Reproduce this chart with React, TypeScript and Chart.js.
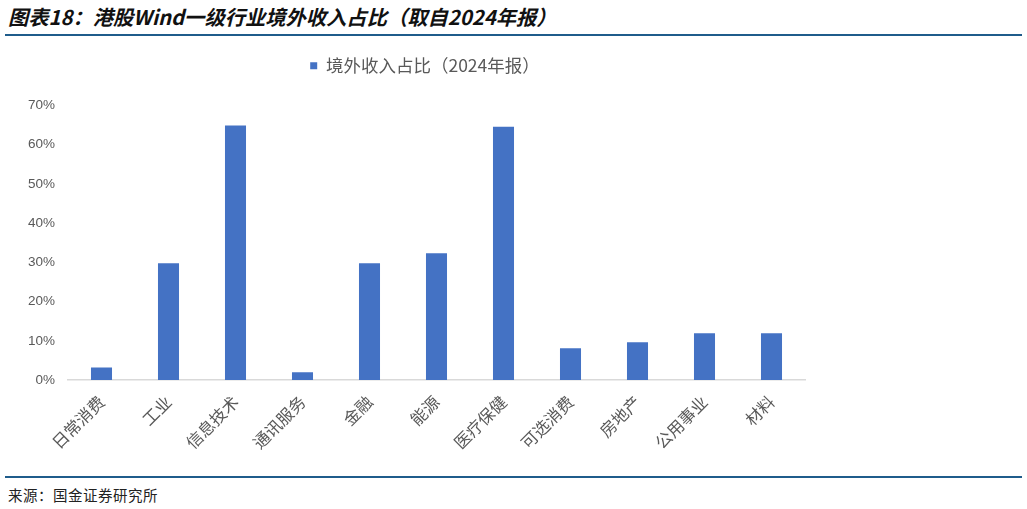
import React, { useEffect, useRef } from "react";
import { Chart, registerables } from "chart.js";

Chart.register(...registerables);

const categories = ["日常消费", "工业", "信息技术", "通讯服务", "金融", "能源", "医疗保健", "可选消费", "房地产", "公用事业", "材料"];
const overseasShare = [3.2, 29.8, 64.9, 2.0, 29.8, 32.3, 64.6, 8.1, 9.6, 11.9, 11.9];
const seriesName = "境外收入占比（2024年报）";
const yTicks = [0, 10, 20, 30, 40, 50, 60, 70];
const titleText = "图表18：港股Wind一级行业境外收入占比（取自2024年报）";
const sourceText = "来源：国金证券研究所";

const CJK = '"Noto Sans CJK SC", "Noto Sans", sans-serif';

export default function App() {
  const ref = useRef<HTMLCanvasElement | null>(null);

  useEffect(() => {
    if (!ref.current) return;
    const legendGap = {
      id: "legendGap",
      beforeLayout(chart: any) {
        const lg = chart.legend;
        if (lg && !lg._patched) {
          const f = lg.fit;
          lg.fit = function () {
            f.call(this);
            this.height += 21;
          };
          lg._patched = true;
        }
      },
      afterLayout(chart: any) {
        const lg = chart.legend;
        if (lg) lg.left = 45;
      },
    };
    const chart = new Chart(ref.current, {
      type: "bar",
      data: {
        labels: categories,
        datasets: [
          {
            label: seriesName,
            data: overseasShare,
            backgroundColor: "#4472C4",
            borderWidth: 0,
            barPercentage: 0.314,
            categoryPercentage: 1,
          },
        ],
      },
      options: {
        animation: false,
        responsive: false,
        maintainAspectRatio: false,
        layout: { padding: { left: 0, right: 222, top: 7, bottom: 0 } },
        plugins: {
          legend: {
            display: true,
            position: "top",
            labels: {
              boxWidth: 7,
              boxHeight: 7,
              color: "#595959",
              font: { family: CJK, size: 17.5 },
              padding: 10,
            },
          },
          tooltip: { enabled: false },
        },
        scales: {
          x: {
            grid: { display: false, drawTicks: false },
            border: { display: true, color: "#D9D9D9", width: 1.5 },
            ticks: {
              color: "#595959",
              font: { family: CJK, size: 16.5 },
              minRotation: 45,
              maxRotation: 45,
              padding: 12,
              autoSkip: false,
            },
            afterFit(scale: any) {
              scale.height = 90;
            },
          },
          y: {
            min: 0,
            max: 70,
            afterBuildTicks(scale: any) {
              scale.ticks = yTicks.map((v) => ({ value: v }));
            },
            grid: { display: false, drawTicks: false },
            border: { display: false },
            ticks: {
              color: "#595959",
              font: { family: '"Liberation Sans", Arial, sans-serif', size: 13.5 },
              padding: 13,
              callback: (v: any) => v + "%",
            },
            afterFit(scale: any) {
              scale.width = 68;
            },
          },
        },
      },
      plugins: [legendGap],
    });
    return () => chart.destroy();
  }, []);

  return (
    <div style={{ position: "absolute", left: 0, top: 0, width: 1027, height: 509, background: "#fff", overflow: "hidden" }}>
      <div
        style={{
          position: "absolute",
          left: 8,
          top: 4,
          fontFamily: CJK,
          fontWeight: 700,
          fontStyle: "italic",
          fontSize: 20.3,
          color: "#111",
          whiteSpace: "nowrap",
          lineHeight: "24px",
        }}
      >
        {titleText}
      </div>
      <div style={{ position: "absolute", left: 5, top: 34, width: 1017, height: 2, background: "#1F5C8B" }} />
      <canvas ref={ref} width={1027} height={430} style={{ position: "absolute", left: 0, top: 40, width: 1027, height: 430 }} />
      <div style={{ position: "absolute", left: 5, top: 476, width: 1017, height: 2, background: "#1F5C8B" }} />
      <div
        style={{
          position: "absolute",
          left: 8,
          top: 486,
          fontFamily: CJK,
          fontSize: 14.5,
          letterSpacing: "0.5px",
          color: "#222",
          whiteSpace: "nowrap",
          lineHeight: "18px",
        }}
      >
        {sourceText}
      </div>
    </div>
  );
}
